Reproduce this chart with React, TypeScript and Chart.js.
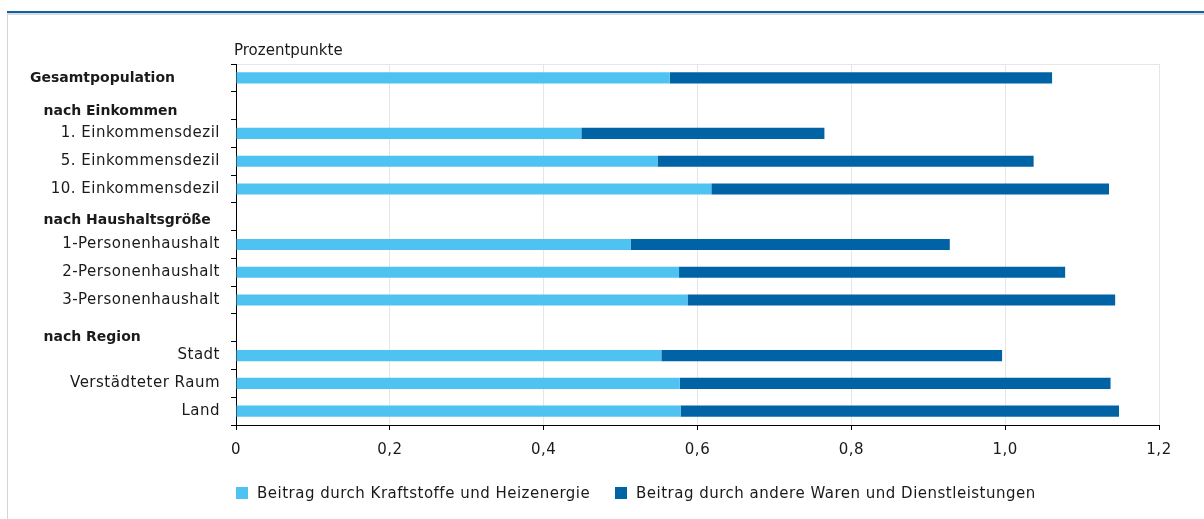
import React, { useEffect, useRef } from 'react';
import { Chart, registerables } from 'chart.js';

Chart.register(...registerables);

const categories = [
  'Gesamtpopulation',
  'nach Einkommen',
  '1. Einkommensdezil',
  '5. Einkommensdezil',
  '10. Einkommensdezil',
  'nach Haushaltsgröße',
  '1-Personenhaushalt',
  '2-Personenhaushalt',
  '3-Personenhaushalt',
  'nach Region',
  'Stadt',
  'Verstädteter Raum',
  'Land',
];
const headerCategories = ['Gesamtpopulation', 'nach Einkommen', 'nach Haushaltsgröße', 'nach Region'];

const energyValues = [0.564, null, 0.449, 0.548, 0.618, null, 0.513, 0.576, 0.587, null, 0.553, 0.577, 0.578];
const otherValues = [0.497, null, 0.316, 0.489, 0.517, null, 0.415, 0.502, 0.556, null, 0.443, 0.560, 0.570];

const seriesLabels = ['Beitrag durch Kraftstoffe und Heizenergie', 'Beitrag durch andere Waren und Dienstleistungen'];
const xTickValues = [0, 0.2, 0.4, 0.6, 0.8, 1.0, 1.2];
const xTickLabels = ['0', '0,2', '0,4', '0,6', '0,8', '1,0', '1,2'];
const axisTitle = 'Prozentpunkte';

const LIGHT = '#4EC3F1';
const DARK = '#0063A6';
const FONT = 'DejaVu Sans';
const TEXT = '#1a1a1a';
const SPACING = '0.5px';

// style: header label placement (x, baseline offset from category centre)
const headerStyle: Record<string, { x: number; dy: number }> = {
  'Gesamtpopulation': { x: 30, dy: 4 },
  'nach Einkommen': { x: 43.5, dy: 9 },
  'nach Haushaltsgröße': { x: 43.5, dy: 7 },
  'nach Region': { x: 43.5, dy: 13 },
};

const extrasPlugin = {
  id: 'extras',
  beforeUpdate(chart: any) {
    chart.ctx.letterSpacing = SPACING;
  },
  beforeDraw(chart: any) {
    chart.ctx.letterSpacing = SPACING;
  },
  afterDraw(chart: any) {
    const ctx = chart.ctx;
    const yScale = chart.scales.y;
    ctx.save();
    ctx.fillStyle = TEXT;
    ctx.textAlign = 'left';
    ctx.textBaseline = 'alphabetic';
    ctx.letterSpacing = '0px';
    ctx.font = `bold 14px "${FONT}"`;
    categories.forEach((c, i) => {
      if (!headerCategories.includes(c)) return;
      const st = headerStyle[c];
      const y = yScale.getPixelForValue(i) + st.dy;
      ctx.fillText(c, st.x, y);
    });
    ctx.font = `15px "${FONT}"`;
    ctx.fillText(axisTitle, chart.chartArea.left - 2, 55);
    ctx.restore();
  },
};

export default function App() {
  const ref = useRef<HTMLCanvasElement | null>(null);

  useEffect(() => {
    if (!ref.current) return;
    const chart = new Chart(ref.current, {
      type: 'bar',
      data: {
        labels: categories,
        datasets: [
          {
            label: seriesLabels[0],
            data: energyValues as any,
            backgroundColor: LIGHT,
            barPercentage: 0.4,
            categoryPercentage: 1,
          },
          {
            label: seriesLabels[1],
            data: otherValues as any,
            backgroundColor: DARK,
            barPercentage: 0.4,
            categoryPercentage: 1,
          },
        ],
      },
      options: {
        indexAxis: 'y',
        responsive: false,
        maintainAspectRatio: false,
        animation: false,
        layout: { padding: { left: 0, right: 45, top: 64, bottom: 0 } },
        plugins: {
          legend: { display: false },
          tooltip: { enabled: false },
        },
        scales: {
          x: {
            stacked: true,
            min: 0,
            max: 1.2,
            afterBuildTicks: (scale: any) => {
              scale.ticks = xTickValues.map((v) => ({ value: v }));
            },
            ticks: {
              callback: (_v: any, i: number) => xTickLabels[i],
              font: { family: FONT, size: 15 },
              color: TEXT,
              padding: 11,
              maxRotation: 0,
            },
            grid: {
              color: '#e6e6e6',
              lineWidth: 1,
              drawTicks: true,
              tickLength: 5,
              tickColor: '#000',
            },
            border: { color: '#000', width: 1 },
            afterFit: (scale: any) => {
              scale.height = 94;
            },
          },
          y: {
            stacked: true,
            ticks: {
              callback: (_v: any, i: number) => (headerCategories.includes(categories[i]) ? '' : categories[i]),
              font: { family: FONT, size: 15 },
              color: TEXT,
              padding: 11,
              autoSkip: false,
            },
            grid: {
              offset: true,
              color: (ctx: any) => (ctx.index === 0 ? '#e6e6e6' : 'rgba(0,0,0,0)'),
              tickColor: '#000',
              tickLength: 5,
            },
            border: { color: '#000', width: 1 },
            afterFit: (scale: any) => {
              scale.width = 236;
            },
          },
        },
      },
      plugins: [extrasPlugin],
    });
    return () => chart.destroy();
  }, []);

  const legendItem = (label: string, color: string, left: number) => (
    <div
      style={{
        position: 'absolute',
        left,
        top: 482,
        height: 21,
        display: 'flex',
        alignItems: 'center',
        fontFamily: FONT,
        fontSize: 15,
        letterSpacing: SPACING,
        color: TEXT,
        whiteSpace: 'nowrap',
      }}
    >
      <span style={{ display: 'inline-block', width: 12, height: 12, background: color, marginRight: 9 }} />
      <span>{label}</span>
    </div>
  );

  return (
    <div
      style={{
        position: 'fixed',
        left: 0,
        top: 0,
        width: 1204,
        height: 519,
        background: '#fff',
        overflow: 'hidden',
      }}
    >
      <div style={{ position: 'absolute', left: 7, top: 11, right: 0, height: 2, background: '#155E9F' }} />
      <div style={{ position: 'absolute', left: 7, top: 13, right: 0, height: 2, background: '#d6dce3' }} />
      <div style={{ position: 'absolute', left: 7, top: 15, bottom: 0, width: 1, background: '#d4d4d4' }} />
      <canvas ref={ref} width={1204} height={519} style={{ position: 'absolute', left: 0, top: 0, display: 'block' }} />
      {legendItem(seriesLabels[0], LIGHT, 236)}
      {legendItem(seriesLabels[1], DARK, 615)}
    </div>
  );
}
